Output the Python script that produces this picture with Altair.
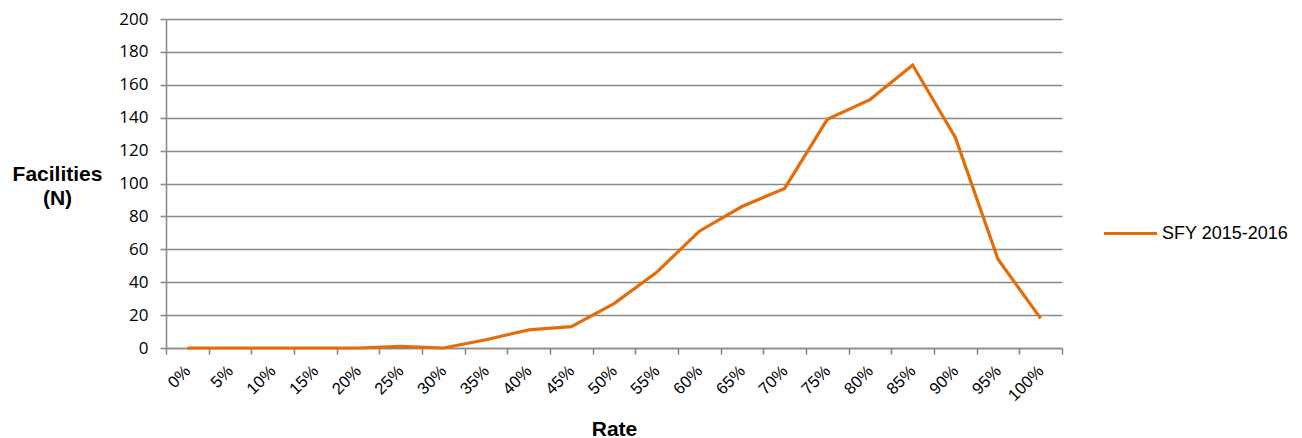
import altair as alt
import pandas as pd

rates = ["0%", "5%", "10%", "15%", "20%", "25%", "30%", "35%", "40%", "45%", "50%",
         "55%", "60%", "65%", "70%", "75%", "80%", "85%", "90%", "95%", "100%"]
facilities = [0, 0, 0, 0, 0, 1, 0, 5, 11, 13, 27, 46, 71, 86, 97, 139, 151, 172, 128, 54, 18]
series_name = "SFY 2015-2016"
y_ticks = [0, 20, 40, 60, 80, 100, 120, 140, 160, 180, 200]

df = pd.DataFrame({"Rate": rates, "Facilities": facilities, "Series": series_name})

ORANGE = "#E46C0A"
GRID = "#8A8A8A"

chart = alt.Chart(df).mark_line(strokeWidth=3.2, color=ORANGE).encode(
    x=alt.X(
        "Rate:N",
        sort=rates,
        scale=alt.Scale(type="band", domain=rates, paddingInner=0, paddingOuter=0),
        axis=alt.Axis(
            title="Rate",
            labelAngle=-45,
            labelAlign="right",
            labelBaseline="middle",
            labelFont="Liberation Sans",
            labelFontSize=16.5,
            labelColor="#000000",
            labelPadding=14,
            tickBand="extent",
            tickSize=6,
            tickWidth=1.6,
            tickColor=GRID,
            domainColor=GRID,
            domainWidth=1.6,
            grid=False,
            titleFont="Liberation Sans",
            titleFontSize=21,
            titleFontWeight="bold",
            titleColor="#000000",
            titleBaseline="alphabetic",
            titleY=87,
        ),
    ),
    y=alt.Y(
        "Facilities:Q",
        scale=alt.Scale(domain=[0, 200], nice=False),
        axis=alt.Axis(
            title=["Facilities", "(N)"],
            values=y_ticks,
            labelFont="Open Sans",
            labelFontSize=17,
            labelColor="#000000",
            labelPadding=12,
            tickSize=6,
            tickWidth=1.6,
            tickColor=GRID,
            domainColor=GRID,
            domainWidth=1.6,
            grid=True,
            gridColor=GRID,
            gridWidth=1.6,
            titleAngle=0,
            titleAlign="center",
            titleBaseline="alphabetic",
            titleX=-109,
            titleY=161,
            titleLineHeight=24,
            titleFont="Liberation Sans",
            titleFontSize=21,
            titleFontWeight="bold",
            titleColor="#000000",
        ),
    ),
    color=alt.Color(
        "Series:N",
        scale=alt.Scale(domain=[series_name], range=[ORANGE]),
        legend=alt.Legend(
            title=None,
            orient="none",
            legendX=936,
            legendY=186,
            symbolType="stroke",
            symbolSize=2809,
            symbolStrokeWidth=3.2,
            labelFont="Liberation Sans",
            labelFontSize=18,
            labelColor="#000000",
            labelOffset=3,
        ),
    ),
).properties(
    width=896,
    height=329,
    autosize=alt.AutoSizeParams(type="none"),
    padding={"left": 158, "top": 11, "right": 232, "bottom": 90},
).configure_view(stroke=None)

chart.save("out.html", embed_options={"renderer": "svg", "actions": False})
